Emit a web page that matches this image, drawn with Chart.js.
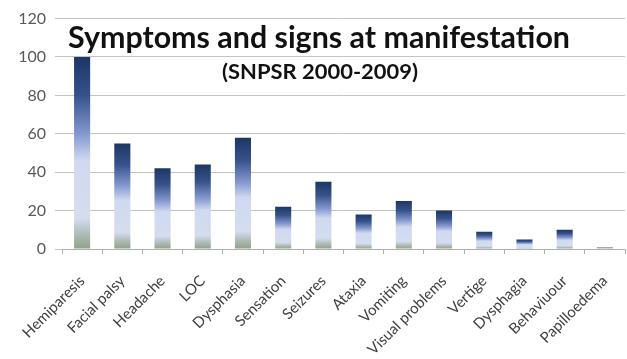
<!DOCTYPE html>
<html>
<head>
<meta charset="utf-8">
<script src="https://cdn.jsdelivr.net/npm/chart.js@4"></script>
<style>
  html, body { margin: 0; padding: 0; background: #fff; }
  #wrap { width: 627px; height: 359px; }
</style>
</head>
<body>
<div id="wrap"><canvas id="symptomsChart" width="627" height="359"></canvas></div>
<script>
const symptoms = ['Hemiparesis', 'Facial palsy', 'Headache', 'LOC', 'Dysphasia', 'Sensation',
    'Seizures', 'Ataxia', 'Vomiting', 'Visual problems', 'Vertige', 'Dysphagia', 'Behaviuour', 'Papilloedema'];
const percentValues = [100, 55, 42, 44, 58, 22, 35, 18, 25, 20, 9, 5, 10, 1];
const yTicks = [0, 20, 40, 60, 80, 100, 120];

const titleText = 'Symptoms and signs at manifestation';
const subtitleText = '(SNPSR 2000-2009)';

// gradient per bar, from the bar top down to the axis
function barGradient(c) {
    const chart = c.chart;
    const { ctx, chartArea, scales } = chart;
    if (!chartArea) return '#5b78ae';
    const top = scales.y.getPixelForValue(c.raw);
    const bottom = scales.y.getPixelForValue(0);
    if (bottom - top < 3) return '#a3b0a0';
    const g = ctx.createLinearGradient(0, top, 0, bottom + 0.01);
    g.addColorStop(0, '#1c3764');
    g.addColorStop(0.2, '#36528a');
    g.addColorStop(0.4, '#8498cf');
    g.addColorStop(0.54, '#d0d9f0');
    g.addColorStop(0.84, '#d5dcef');
    g.addColorStop(0.93, '#aab9b2');
    g.addColorStop(1, '#8ea386');
    return g;
}

function fitText(ctx, text, x, y, width) {
    const w = ctx.measureText(text).width;
    ctx.save();
    ctx.translate(x, y);
    ctx.scale(width / w, 1);
    ctx.fillText(text, 0, 0);
    ctx.restore();
}

const titlePlugin = {
    id: 'boxTitle',
    afterDatasetsDraw(chart) {
        const ctx = chart.ctx;
        ctx.save();
        ctx.fillStyle = '#111';
        ctx.textBaseline = 'alphabetic';
        ctx.textAlign = 'left';
        ctx.font = 'bold 31px Lato';
        fitText(ctx, titleText, 68, 48, 502);
        ctx.font = 'bold 20px Lato';
        fitText(ctx, subtitleText, 222, 79, 196);
        ctx.restore();
    }
};

new Chart(document.getElementById('symptomsChart').getContext('2d'), {
    type: 'bar',
    data: {
        labels: symptoms,
        datasets: [{
            label: 'Symptoms',
            data: percentValues,
            backgroundColor: barGradient,
            borderWidth: 0,
            barPercentage: 0.4,
            categoryPercentage: 1
        }]
    },
    options: {
        responsive: false,
        animation: false,
        layout: { padding: { top: 17, right: 2, left: 0, bottom: 0 } },
        plugins: {
            legend: { display: false },
            tooltip: { enabled: false }
        },
        scales: {
            y: {
                min: 0,
                max: 120,
                afterBuildTicks: (s) => { s.ticks = yTicks.map(v => ({ value: v })); },
                afterFit: (s) => { s.width = 62; },
                border: { display: false },
                grid: { color: '#c3c3c3', lineWidth: 1, tickLength: 7 },
                ticks: {
                    padding: 9,
                    color: '#595959',
                    font: { family: 'Lato', size: 16 }
                }
            },
            x: {
                afterFit: (s) => { s.height = 110; s.paddingLeft = 0; s.paddingRight = 0; },
                border: { display: true, color: '#b0b0b0' },
                grid: { drawOnChartArea: false, color: '#b0b0b0', tickLength: 5 },
                ticks: {
                    minRotation: 45,
                    maxRotation: 45,
                    padding: 18,
                    color: '#404040',
                    font: { family: 'Lato', size: 15 }
                }
            }
        }
    },
    plugins: [titlePlugin]
});
</script>
</body>
</html>
